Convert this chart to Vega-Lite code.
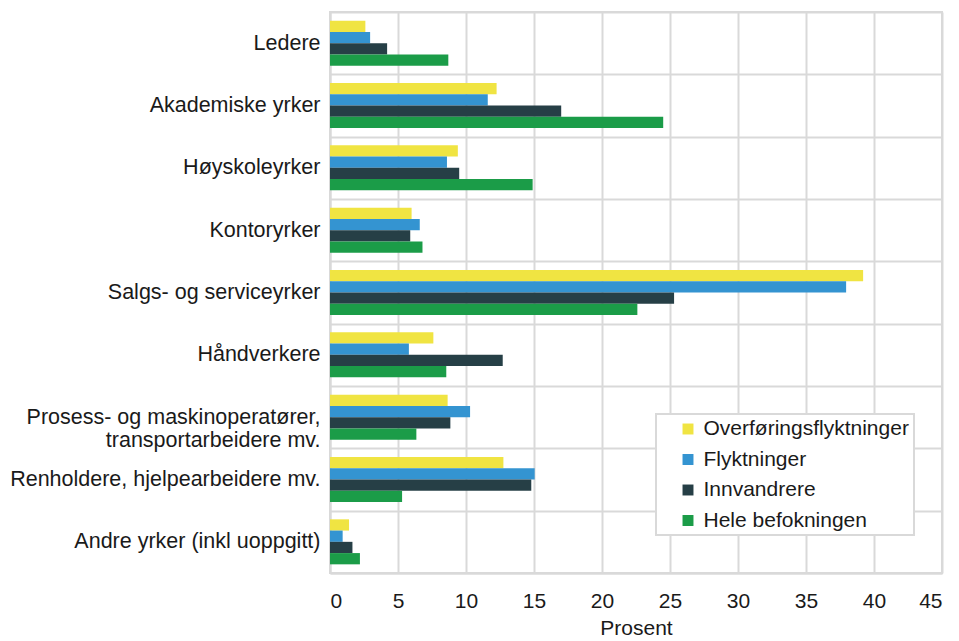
{
  "$schema": "https://vega.github.io/schema/vega-lite/v6.json",
  "width": 612,
  "height": 561,
  "autosize": {"type": "none"},
  "padding": {"left": 330, "top": 12, "right": 17, "bottom": 68},
  "background": "white",
  "config": {
    "font": "Liberation Sans",
    "view": {"stroke": "#d9d9d9", "strokeWidth": 2},
    "axis": {"gridColor": "#d9d9d9", "gridWidth": 2, "domainColor": "#d9d9d9", "domainWidth": 2, "ticks": false, "labelColor": "#1a1a1a", "titleColor": "#1a1a1a", "labelFont": "Liberation Sans", "titleFont": "Liberation Sans"}
  },
  "data": {
    "values": [
      {"yrke": "Ledere", "gruppe": "Overføringsflyktninger", "prosent": 2.6},
      {"yrke": "Ledere", "gruppe": "Flyktninger", "prosent": 2.95},
      {"yrke": "Ledere", "gruppe": "Innvandrere", "prosent": 4.2},
      {"yrke": "Ledere", "gruppe": "Hele befokningen", "prosent": 8.7},
      {"yrke": "Akademiske yrker", "gruppe": "Overføringsflyktninger", "prosent": 12.25},
      {"yrke": "Akademiske yrker", "gruppe": "Flyktninger", "prosent": 11.6},
      {"yrke": "Akademiske yrker", "gruppe": "Innvandrere", "prosent": 17.0},
      {"yrke": "Akademiske yrker", "gruppe": "Hele befokningen", "prosent": 24.5},
      {"yrke": "Høyskoleyrker", "gruppe": "Overføringsflyktninger", "prosent": 9.4},
      {"yrke": "Høyskoleyrker", "gruppe": "Flyktninger", "prosent": 8.6},
      {"yrke": "Høyskoleyrker", "gruppe": "Innvandrere", "prosent": 9.5},
      {"yrke": "Høyskoleyrker", "gruppe": "Hele befokningen", "prosent": 14.9},
      {"yrke": "Kontoryrker", "gruppe": "Overføringsflyktninger", "prosent": 6.0},
      {"yrke": "Kontoryrker", "gruppe": "Flyktninger", "prosent": 6.6},
      {"yrke": "Kontoryrker", "gruppe": "Innvandrere", "prosent": 5.9},
      {"yrke": "Kontoryrker", "gruppe": "Hele befokningen", "prosent": 6.8},
      {"yrke": "Salgs- og serviceyrker", "gruppe": "Overføringsflyktninger", "prosent": 39.2},
      {"yrke": "Salgs- og serviceyrker", "gruppe": "Flyktninger", "prosent": 37.95},
      {"yrke": "Salgs- og serviceyrker", "gruppe": "Innvandrere", "prosent": 25.3},
      {"yrke": "Salgs- og serviceyrker", "gruppe": "Hele befokningen", "prosent": 22.6},
      {"yrke": "Håndverkere", "gruppe": "Overføringsflyktninger", "prosent": 7.6},
      {"yrke": "Håndverkere", "gruppe": "Flyktninger", "prosent": 5.8},
      {"yrke": "Håndverkere", "gruppe": "Innvandrere", "prosent": 12.7},
      {"yrke": "Håndverkere", "gruppe": "Hele befokningen", "prosent": 8.55},
      {"yrke": "Prosess- og maskinoperatører,|transportarbeidere mv.", "gruppe": "Overføringsflyktninger", "prosent": 8.65},
      {"yrke": "Prosess- og maskinoperatører,|transportarbeidere mv.", "gruppe": "Flyktninger", "prosent": 10.3},
      {"yrke": "Prosess- og maskinoperatører,|transportarbeidere mv.", "gruppe": "Innvandrere", "prosent": 8.85},
      {"yrke": "Prosess- og maskinoperatører,|transportarbeidere mv.", "gruppe": "Hele befokningen", "prosent": 6.35},
      {"yrke": "Renholdere, hjelpearbeidere mv.", "gruppe": "Overføringsflyktninger", "prosent": 12.75},
      {"yrke": "Renholdere, hjelpearbeidere mv.", "gruppe": "Flyktninger", "prosent": 15.05},
      {"yrke": "Renholdere, hjelpearbeidere mv.", "gruppe": "Innvandrere", "prosent": 14.8},
      {"yrke": "Renholdere, hjelpearbeidere mv.", "gruppe": "Hele befokningen", "prosent": 5.3},
      {"yrke": "Andre yrker (inkl uoppgitt)", "gruppe": "Overføringsflyktninger", "prosent": 1.4},
      {"yrke": "Andre yrker (inkl uoppgitt)", "gruppe": "Flyktninger", "prosent": 0.93},
      {"yrke": "Andre yrker (inkl uoppgitt)", "gruppe": "Innvandrere", "prosent": 1.65},
      {"yrke": "Andre yrker (inkl uoppgitt)", "gruppe": "Hele befokningen", "prosent": 2.2}
    ]
  },
  "mark": {"type": "bar"},
  "encoding": {
    "y": {
      "field": "yrke",
      "type": "nominal",
      "sort": null,
      "scale": {"paddingInner": 0, "paddingOuter": 0},
      "axis": {"title": null, "grid": true, "tickBand": "extent", "labelFontSize": 21.5, "labelPadding": 10, "labelLimit": 400, "labelLineHeight": 23, "labelExpr": "split(datum.label, '|')",
        "encode": {"labels": {"update": {"dy": {"signal": "indexof(datum.value, '|') >= 0 ? -9 : 0"}}}}}
    },
    "yOffset": {
      "field": "gruppe",
      "type": "nominal",
      "sort": ["Overføringsflyktninger", "Flyktninger", "Innvandrere", "Hele befokningen"],
      "scale": {"paddingInner": 0, "paddingOuter": 0.77}
    },
    "x": {
      "field": "prosent",
      "type": "quantitative",
      "scale": {"domain": [0, 45], "nice": false},
      "axis": {"title": "Prosent", "values": [0, 5, 10, 15, 20, 25, 30, 35, 40, 45], "grid": true, "labelFontSize": 21, "labelPadding": 17, "titleFontSize": 21, "titleFontWeight": "normal", "titlePadding": 6}
    },
    "color": {
      "field": "gruppe",
      "type": "nominal",
      "sort": ["Overføringsflyktninger", "Flyktninger", "Innvandrere", "Hele befokningen"],
      "scale": {"domain": ["Overføringsflyktninger", "Flyktninger", "Innvandrere", "Hele befokningen"], "range": ["#f0e442", "#3494d1", "#263f46", "#1b9c48"]},
      "legend": {"title": null, "orient": "none", "legendX": 326, "legendY": 402, "symbolType": "square", "symbolSize": 120, "labelFontSize": 21, "labelLimit": 400, "labelColor": "#1a1a1a", "fillColor": "white", "strokeColor": "#d9d9d9", "padding": 4.5, "symbolOffset": 17, "rowPadding": 8.5, "symbolStrokeWidth": 0, "labelOffset": 5, "labelExpr": "datum.label + '\u00a0\u00a0\u00a0'",
        "encode": {"legend": {"update": {"strokeWidth": {"value": 2}}}}}
    }
  }
}
